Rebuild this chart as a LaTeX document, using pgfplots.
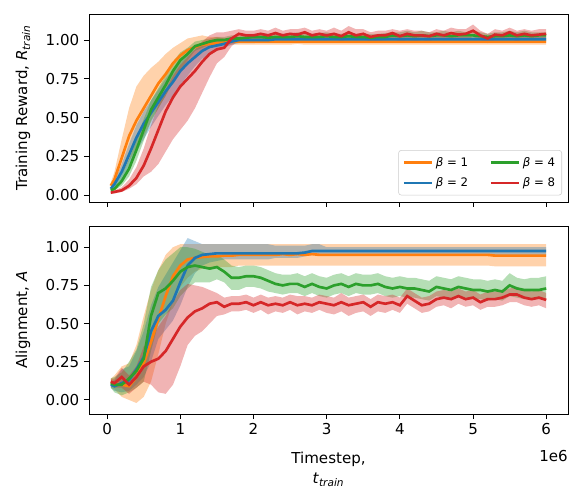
\documentclass[border=0pt]{standalone}
\usepackage{fontspec}
\setmainfont{DejaVu Sans}
\usepackage{pgfplots}
\usepackage{pgfplotstable}
\pgfplotsset{compat=1.18}
\usepgfplotslibrary{fillbetween}

\definecolor{cO}{HTML}{FF7F0E}
\definecolor{cB}{HTML}{1F77B4}
\definecolor{cG}{HTML}{2CA02C}
\definecolor{cR}{HTML}{D62728}

% training reward: mean, lower, upper for beta = 1 (o), 2 (b), 4 (g), 8 (r); x in 1e6 steps
\pgfplotstableread{
x o oL oH b bL bH g gL gH r rL rH
0.05 .06 .04 .08 .04 .03 .05 .03 .02 .04 .015 .01 .02
0.1 .10 .06 .15 .07 .05 .09 .04 .03 .06 .02 .01 .03
0.2 .24 .13 .36 .15 .10 .20 .09 .06 .13 .03 .02 .05
0.3 .38 .22 .56 .26 .19 .33 .17 .12 .23 .06 .04 .10
0.4 .48 .30 .70 .37 .28 .45 .29 .22 .36 .11 .07 .18
0.5 .56 .38 .77 .46 .36 .54 .42 .35 .49 .19 .12 .30
0.6 .64 .47 .82 .53 .44 .61 .55 .48 .61 .30 .15 .45
0.7 .72 .56 .86 .60 .51 .68 .63 .56 .69 .42 .20 .58
0.8 .78 .64 .91 .67 .58 .75 .71 .64 .77 .54 .28 .68
0.9 .85 .73 .95 .73 .64 .81 .80 .73 .86 .63 .36 .77
1.0 .90 .80 .98 .80 .71 .87 .87 .81 .92 .70 .42 .84
1.1 .935 .86 1.01 .85 .77 .91 .91 .87 .95 .75 .48 .89
1.2 .955 .90 1.02 .89 .83 .94 .96 .93 .99 .80 .56 .94
1.3 .97 .93 1.03 .93 .88 .97 .975 .95 1.00 .86 .66 .99
1.4 .975 .95 1.02 .955 .91 .99 .99 .97 1.01 .91 .76 1.03
1.5 .98 .96 1.02 .965 .93 1.00 1.00 .98 1.02 .94 .85 1.05
1.6 .985 .97 1.01 .975 .95 1.00 1.00 .98 1.02 .95 .89 1.05
1.7 .99 .97 1.01 .99 .97 1.01 1.01 .99 1.03 1.01 .96 1.06
1.8 .99 .97 1.01 1.00 .98 1.02 1.01 .99 1.03 1.04 1.00 1.07
1.9 .99 .97 1.01 1.00 .98 1.02 1.015 .99 1.04 1.03 1.00 1.06
2.0 .99 .97 1.01 1.00 .98 1.02 1.02 .99 1.04 1.03 .99 1.06
2.1 .99 .97 1.01 1.00 .985 1.02 1.02 1.00 1.04 1.04 1.01 1.07
2.2 .99 .97 1.01 1.00 .985 1.02 1.015 .99 1.04 1.03 1.00 1.06
2.3 .99 .97 1.01 1.005 .985 1.02 1.02 1.00 1.04 1.045 1.01 1.08
2.4 .99 .97 1.01 1.005 .985 1.02 1.02 1.00 1.04 1.03 1.00 1.06
2.5 .99 .97 1.01 1.005 .99 1.02 1.02 1.00 1.04 1.04 1.01 1.07
2.6 .99 .975 1.01 1.005 .99 1.02 1.025 1.00 1.05 1.035 1.00 1.07
2.7 .99 .97 1.01 1.005 .99 1.02 1.02 1.00 1.04 1.05 1.01 1.08
2.8 .99 .97 1.01 1.005 .99 1.02 1.02 1.00 1.04 1.03 1.00 1.06
2.9 .99 .97 1.01 1.005 .99 1.02 1.02 1.00 1.045 1.04 1.00 1.07
3.0 .99 .97 1.01 1.005 .99 1.02 1.025 1.00 1.05 1.03 1.00 1.06
3.1 .99 .97 1.01 1.005 .99 1.02 1.02 1.00 1.04 1.04 1.01 1.08
3.2 .99 .97 1.01 1.005 .99 1.02 1.02 1.00 1.04 1.025 .99 1.06
3.3 .99 .97 1.01 1.005 .99 1.02 1.025 1.00 1.05 1.05 1.01 1.09
3.4 .99 .97 1.01 1.005 .99 1.02 1.02 1.00 1.04 1.03 1.00 1.07
3.5 .99 .97 1.01 1.005 .99 1.02 1.02 1.00 1.04 1.04 1.01 1.07
3.6 .99 .97 1.01 1.005 .99 1.02 1.015 .995 1.04 1.02 .99 1.05
3.7 .99 .97 1.01 1.005 .99 1.02 1.02 1.00 1.04 1.03 .99 1.06
3.8 .99 .97 1.01 1.005 .99 1.02 1.02 1.00 1.045 1.03 1.00 1.06
3.9 .99 .97 1.01 1.005 .99 1.02 1.03 1.00 1.05 1.045 1.01 1.07
4.0 .99 .97 1.01 1.005 .99 1.02 1.025 1.00 1.05 1.025 .99 1.06
4.1 .99 .97 1.01 1.005 .99 1.02 1.03 1.00 1.06 1.04 1.00 1.07
4.2 .99 .97 1.01 1.005 .99 1.02 1.025 1.00 1.05 1.03 .99 1.06
4.3 .99 .97 1.01 1.005 .99 1.02 1.03 1.00 1.06 1.03 1.00 1.06
4.4 .99 .97 1.01 1.005 .99 1.02 1.025 1.00 1.05 1.025 .99 1.05
4.5 .99 .97 1.01 1.005 .99 1.02 1.03 1.00 1.05 1.04 1.01 1.07
4.6 .99 .97 1.01 1.005 .99 1.02 1.03 1.00 1.06 1.03 1.00 1.06
4.7 .99 .97 1.01 1.005 .99 1.02 1.025 1.00 1.05 1.045 1.01 1.08
4.8 .99 .97 1.01 1.005 .99 1.02 1.03 1.00 1.06 1.035 1.00 1.07
4.9 .99 .97 1.01 1.005 .99 1.02 1.03 1.00 1.05 1.04 1.00 1.07
5.0 .99 .97 1.01 1.005 .99 1.02 1.03 1.00 1.06 1.06 1.02 1.10
5.1 .99 .97 1.01 1.005 .99 1.02 1.025 1.00 1.05 1.03 1.00 1.06
5.2 .99 .97 1.01 1.005 .99 1.02 1.02 1.00 1.04 1.01 .98 1.04
5.3 .99 .97 1.01 1.005 .99 1.02 1.025 1.00 1.05 1.035 1.00 1.07
5.4 .99 .97 1.01 1.005 .99 1.02 1.025 1.00 1.05 1.03 1.00 1.06
5.5 .99 .97 1.01 1.005 .99 1.02 1.03 1.00 1.06 1.05 1.01 1.08
5.6 .99 .97 1.01 1.005 .99 1.02 1.025 1.00 1.05 1.03 .99 1.06
5.7 .99 .97 1.01 1.005 .99 1.02 1.03 1.00 1.06 1.04 1.01 1.07
5.8 .99 .97 1.01 1.005 .99 1.02 1.025 1.00 1.05 1.03 1.00 1.06
5.9 .99 .97 1.01 1.005 .99 1.02 1.03 1.00 1.05 1.035 1.00 1.07
6.0 .99 .97 1.01 1.005 .99 1.02 1.03 1.00 1.05 1.04 1.01 1.07
}\rtab

% alignment
\pgfplotstableread{
x o oL oH b bL bH g gL gH r rL rH
0.05 .11 .08 .14 .10 .08 .12 .11 .08 .14 .12 .10 .14
0.1 .11 .07 .16 .09 .06 .13 .10 .05 .15 .11 .08 .14
0.2 .10 .02 .22 .11 .05 .20 .10 .03 .18 .15 .08 .21
0.3 .09 .00 .24 .13 .06 .22 .14 .05 .25 .10 .04 .16
0.4 .15 -.02 .36 .20 .10 .32 .19 .08 .33 .15 .08 .22
0.5 .24 .02 .55 .28 .15 .45 .27 .12 .50 .22 .12 .35
0.6 .38 .12 .72 .45 .25 .62 .55 .32 .74 .25 .10 .40
0.7 .53 .30 .85 .55 .40 .74 .70 .50 .85 .27 .05 .48
0.8 .68 .50 .95 .59 .46 .82 .73 .56 .92 .32 .04 .55
0.9 .81 .64 1.00 .65 .52 .90 .78 .60 .96 .40 .10 .64
1.0 .88 .74 1.02 .77 .62 .98 .84 .68 1.00 .48 .22 .72
1.1 .92 .80 1.02 .88 .74 1.06 .87 .73 1.00 .54 .36 .76
1.2 .93 .84 1.02 .93 .83 1.04 .88 .77 .99 .58 .42 .75
1.3 .935 .86 1.02 .95 .88 1.02 .87 .77 .97 .60 .45 .74
1.4 .94 .86 1.02 .955 .90 1.02 .86 .77 .95 .63 .50 .72
1.5 .94 .87 1.02 .96 .91 1.02 .87 .79 .95 .64 .55 .70
1.6 .945 .87 1.02 .96 .92 1.02 .84 .77 .92 .61 .56 .67
1.7 .945 .87 1.02 .96 .92 1.02 .80 .72 .88 .63 .58 .68
1.8 .95 .88 1.02 .96 .92 1.02 .80 .72 .87 .63 .58 .68
1.9 .95 .88 1.02 .96 .92 1.02 .81 .74 .88 .64 .59 .69
2.0 .95 .88 1.02 .96 .92 1.02 .81 .74 .88 .62 .57 .67
2.1 .95 .88 1.02 .96 .92 1.02 .80 .73 .87 .64 .59 .69
2.2 .95 .88 1.02 .96 .92 1.02 .78 .71 .85 .62 .56 .67
2.3 .95 .88 1.02 .96 .93 1.01 .76 .70 .83 .63 .58 .68
2.4 .955 .88 1.02 .96 .93 1.01 .75 .69 .82 .62 .57 .67
2.5 .95 .88 1.02 .96 .93 1.01 .76 .70 .82 .64 .59 .69
2.6 .955 .88 1.02 .96 .93 1.01 .76 .70 .83 .62 .56 .68
2.7 .95 .88 1.02 .965 .94 1.01 .74 .68 .81 .63 .58 .68
2.8 .955 .88 1.02 .975 .95 1.02 .76 .70 .83 .62 .57 .67
2.9 .95 .88 1.02 .975 .95 1.02 .74 .68 .81 .64 .59 .69
3.0 .95 .88 1.02 .975 .95 1.00 .73 .67 .80 .63 .57 .68
3.1 .95 .88 1.02 .975 .95 1.00 .75 .69 .82 .62 .56 .67
3.2 .95 .88 1.02 .975 .95 1.00 .76 .70 .83 .64 .58 .70
3.3 .95 .88 1.02 .975 .95 1.00 .74 .68 .81 .62 .55 .67
3.4 .95 .88 1.02 .975 .95 1.00 .76 .70 .83 .63 .57 .68
3.5 .95 .88 1.02 .975 .95 1.00 .75 .69 .82 .64 .58 .69
3.6 .95 .88 1.02 .975 .95 1.00 .75 .69 .82 .61 .55 .66
3.7 .95 .88 1.02 .975 .95 1.00 .76 .70 .83 .64 .58 .69
3.8 .95 .88 1.02 .975 .95 1.00 .74 .68 .81 .63 .57 .68
3.9 .95 .88 1.02 .975 .95 1.00 .73 .67 .80 .64 .59 .69
4.0 .95 .88 1.02 .975 .95 1.00 .74 .68 .81 .62 .57 .67
4.1 .95 .88 1.02 .975 .95 1.00 .73 .67 .80 .68 .63 .73
4.2 .95 .88 1.02 .975 .95 1.00 .73 .67 .80 .65 .60 .70
4.3 .95 .88 1.02 .975 .95 1.00 .72 .66 .79 .62 .57 .67
4.4 .95 .88 1.02 .975 .95 1.00 .71 .65 .78 .63 .58 .68
4.5 .95 .88 1.02 .975 .95 1.00 .74 .68 .81 .66 .61 .71
4.6 .95 .88 1.02 .975 .95 1.00 .73 .67 .80 .67 .62 .72
4.7 .95 .88 1.02 .975 .95 1.00 .72 .66 .79 .66 .60 .71
4.8 .95 .88 1.02 .975 .95 1.00 .74 .68 .81 .68 .63 .73
4.9 .95 .88 1.02 .975 .95 1.00 .73 .67 .80 .66 .61 .71
5.0 .95 .88 1.02 .975 .95 1.00 .72 .66 .79 .67 .62 .72
5.1 .95 .88 1.02 .975 .95 1.00 .72 .66 .79 .64 .59 .69
5.2 .95 .88 1.02 .975 .95 1.00 .71 .65 .78 .66 .61 .71
5.3 .945 .875 1.02 .975 .95 1.00 .72 .66 .79 .66 .61 .71
5.4 .945 .875 1.02 .975 .95 1.00 .71 .65 .78 .67 .62 .72
5.5 .945 .875 1.02 .975 .95 1.00 .75 .68 .83 .69 .64 .73
5.6 .945 .875 1.02 .975 .95 1.00 .73 .67 .80 .69 .64 .74
5.7 .945 .875 1.02 .975 .95 1.00 .72 .66 .79 .67 .62 .72
5.8 .945 .875 1.02 .975 .95 1.00 .72 .66 .80 .66 .61 .71
5.9 .945 .875 1.02 .975 .95 1.00 .72 .66 .80 .67 .62 .72
6.0 .945 .875 1.02 .975 .95 1.00 .73 .67 .81 .655 .60 .70
}\atab

% band + mean line: #1 table, #2 column, #3 colour, #4 path prefix
\newcommand{\series}[4]{%
  \addplot[draw=none, forget plot, name path=#4#2H] table[x=x, y=#2H] {#1};
  \addplot[draw=none, forget plot, name path=#4#2L] table[x=x, y=#2L] {#1};
  \addplot[fill=#3, fill opacity=0.35, draw=none, forget plot] fill between[of=#4#2H and #4#2L];
  \addplot[#3, line width=2pt] table[x=x, y=#2] {#1};
}

\pgfplotsset{
  panel/.style={
    width=359.25pt, height=141pt, scale only axis,
    xmin=-0.2475, xmax=6.2975,
    xtick={0,1,2,3,4,5,6},
    ytick={0,0.25,0.5,0.75,1},
    yticklabel style={/pgf/number format/.cd, fixed, fixed zerofill, precision=2},
    xtick pos=left, ytick pos=left,
    tick align=outside,
    major tick length=3.75pt,
    tick style={black, line width=0.7pt},
    axis line style={line width=0.7pt},
    tick label style={font=\fontsize{11.3}{14}\selectfont},
    label style={font=\fontsize{11.3}{14}\selectfont},
    /pgf/number format/assume math mode=true,
    ylabel style={at={(axis description cs:-0.138,0.5)}, anchor=center, inner sep=0pt},
    clip mode=individual,
  },
}

\begin{document}
\begin{tikzpicture}
\begin{axis}[panel, at={(0,0)}, anchor=south west,
  ymin=-0.045, ymax=1.168,
  xticklabels={},
  ylabel={Training Reward, \textit{R}\textsubscript{\textit{train}}},
  legend columns=2, transpose legend,
  legend cell align=left,
  legend image code/.code={\draw[#1] (0pt,0pt) -- (21pt,0pt);},
  legend style={at={(1,0)}, anchor=south east, xshift=-4.5pt, yshift=5pt,
    font=\fontsize{8.8}{10}\selectfont, draw=black!20, rounded corners=2pt,
    fill=white, fill opacity=0.8, text opacity=1, inner sep=3pt,
    row sep=3pt,
    /tikz/every even column/.append style={column sep=14pt}},
]
\series{\rtab}{o}{cO}{t}
\addlegendentry{\textit{β} = 1}
\series{\rtab}{b}{cB}{t}
\addlegendentry{\textit{β} = 2}
\series{\rtab}{g}{cG}{t}
\addlegendentry{\textit{β} = 4}
\series{\rtab}{r}{cR}{t}
\addlegendentry{\textit{β} = 8}
\end{axis}

\begin{axis}[panel, at={(0,-18pt)}, anchor=north west,
  ymin=-0.092, ymax=1.139,
  ylabel={Alignment, \textit{A}},
  xlabel={Timestep,\\[1pt]\textit{t}\textsubscript{\textit{train}}},
  xlabel style={at={(axis description cs:0.5,0)}, anchor=north, yshift=-28pt, align=center, inner sep=0pt},
]
\series{\atab}{o}{cO}{a}
\series{\atab}{b}{cB}{a}
\series{\atab}{g}{cG}{a}
\series{\atab}{r}{cR}{a}
\node[anchor=north east, inner sep=0pt, font=\fontsize{11.3}{14}\selectfont] at (axis description cs:1,0) [yshift=-27pt] {1e6};
\end{axis}

\pgfresetboundingbox
\path (-66.75pt,-222.75pt) rectangle (369.75pt,151.5pt);
\end{tikzpicture}
\end{document}
